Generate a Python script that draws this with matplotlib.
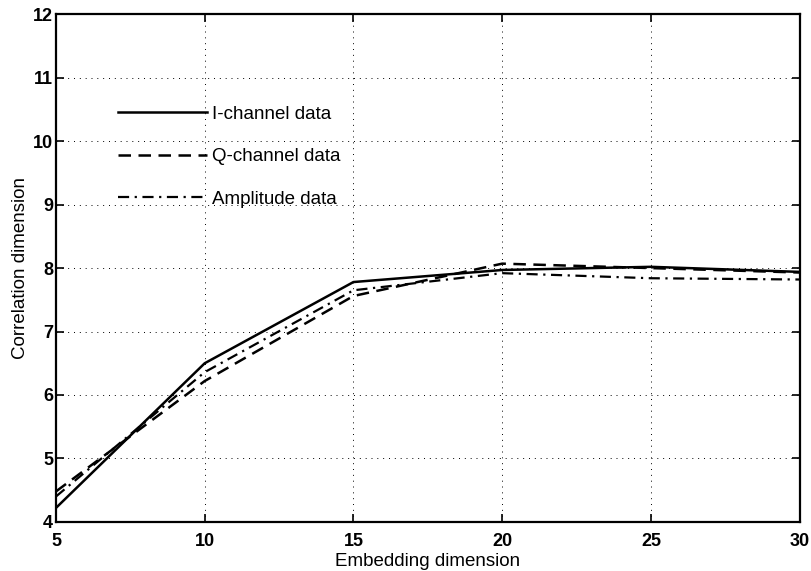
import matplotlib
matplotlib.use("Agg")
import matplotlib.pyplot as plt

# embedding dimension vs estimated correlation dimension
embedding = [5, 10, 15, 20, 25, 30]
i_channel = [4.22, 6.50, 7.78, 7.97, 8.02, 7.94]
q_channel = [4.48, 6.22, 7.56, 8.07, 8.00, 7.93]
amplitude = [4.40, 6.36, 7.65, 7.92, 7.84, 7.82]

x_ticks = [5, 10, 15, 20, 25, 30]
y_ticks = [4, 5, 6, 7, 8, 9, 10, 11, 12]

plt.rcParams["font.family"] = ["Liberation Sans", "DejaVu Sans"]

fig = plt.figure(figsize=(8.11, 5.71), dpi=100)
ax = fig.add_axes([0.069, 0.086, 0.917, 0.889])

ax.plot(embedding, i_channel, color="black", lw=1.8, ls="-",
        label="I-channel data")
ax.plot(embedding, q_channel, color="black", lw=1.8, ls=(0, (5, 3)),
        label="Q-channel data")
ax.plot(embedding, amplitude, color="black", lw=1.6, ls=(0, (5, 2.5, 1, 2.5)),
        label="Amplitude data")

ax.set_xlim(5, 30)
ax.set_ylim(4, 12)
ax.set_xticks(x_ticks)
ax.set_yticks(y_ticks)
ax.grid(True, color="black", ls=(0, (1, 5)), lw=0.7)

ax.tick_params(direction="in", length=6, width=1.2, top=True, right=True,
               labelsize=13)
ax.tick_params(axis="x", pad=8)
ax.tick_params(axis="y", pad=2)
for lab in ax.get_xticklabels() + ax.get_yticklabels():
    lab.set_fontweight("bold")
for sp in ax.spines.values():
    sp.set_linewidth(1.6)

ax.set_xlabel("Embedding dimension", fontsize=13.5, labelpad=2.5)
ax.set_ylabel("Correlation dimension", fontsize=13.5, labelpad=3)

ax.legend(loc="upper left", bbox_to_anchor=(0.083, 0.82), frameon=False,
          fontsize=13.5, handlelength=4.75, handletextpad=0.27,
          labelspacing=1.36, borderpad=0, borderaxespad=0)

fig.savefig("out.png", dpi=100)
